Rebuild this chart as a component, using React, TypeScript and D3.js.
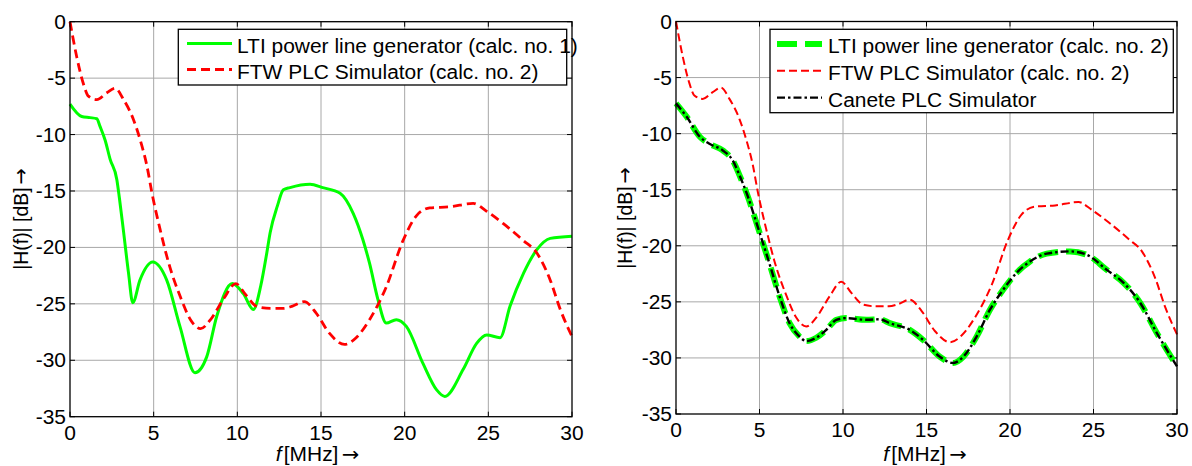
import React from "react";
import * as d3 from "d3";

// ---- Data ----
const fLti1 = [0, 0.7, 1.2, 1.6, 1.8, 2.1, 2.4, 2.8, 2.95, 3.2, 3.5, 3.75, 4.18, 4.94, 5.78, 6.57, 7.47, 8.17, 8.77, 9.7, 10.36, 10.96, 11.4, 11.76, 11.96, 12.4, 12.75, 13.15, 14.35, 15.1, 16.14, 16.93, 17.5, 17.9, 18.4, 18.9, 19.5, 20.1, 21.1, 21.9, 22.4, 23.5, 24.3, 24.9, 25.7, 26.3, 27.1, 27.9, 28.7, 30];
const hLti1 = [-7.3, -8.4, -8.5, -8.6, -9.3, -10.5, -12.2, -14.0, -15.6, -18.6, -22.3, -24.9, -22.9, -21.3, -22.9, -27.0, -31.1, -29.7, -26.1, -23.2, -24.1, -25.5, -23.4, -20.5, -18.7, -16.3, -14.9, -14.7, -14.4, -14.7, -15.2, -17.0, -19.3, -21.4, -24.6, -26.7, -26.4, -27.0, -30.3, -32.6, -33.2, -30.8, -28.5, -27.75, -28.0, -25.2, -22.3, -20.2, -19.2, -19.0];

const fFtw = [0, 0.4, 0.8, 1.1, 1.6, 2.2, 2.7, 3.2, 3.8, 4.2, 4.6, 4.9, 5.4, 5.9, 6.6, 7.2, 7.8, 8.4, 9.2, 9.9, 10.5, 11.2, 12.0, 12.75, 13.3, 14.0, 14.7, 15.5, 16.4, 17.1, 17.9, 18.9, 19.9, 20.7, 21.5, 22.7, 24.1, 24.9, 25.9, 27.1, 27.9, 28.7, 29.3, 30];
const hFtw = [0, -3.1, -5.5, -6.6, -6.9, -6.3, -5.9, -6.9, -8.7, -10.5, -12.8, -15.2, -18.5, -21.4, -24.4, -26.4, -27.2, -26.4, -24.5, -23.2, -24.2, -25.25, -25.4, -25.4, -25.2, -24.8, -25.8, -27.6, -28.6, -28.0, -26.4, -23.5, -19.4, -17.2, -16.5, -16.4, -16.1, -16.8, -17.9, -19.4, -20.5, -22.9, -25.5, -27.9];

const fLti2 = [0, 0.64, 1.44, 2.0, 2.8, 3.4, 3.8, 4.3, 4.7, 5.0, 5.6, 6.2, 6.8, 7.4, 7.8, 8.4, 9.0, 9.6, 10.2, 11.4, 12.2, 12.8, 14.0, 14.8, 15.8, 16.6, 17.2, 18.0, 18.8, 19.6, 20.4, 21.2, 22.2, 23.6, 24.6, 25.8, 26.8, 27.8, 28.8, 30];
const hLti2 = [-7.3, -8.5, -10.3, -10.9, -11.5, -12.4, -13.7, -15.6, -17.4, -18.8, -21.6, -24.5, -26.9, -28.1, -28.5, -28.2, -27.5, -26.6, -26.45, -26.6, -26.55, -26.9, -27.5, -28.4, -29.9, -30.45, -29.9, -28.1, -25.7, -23.9, -22.4, -21.4, -20.7, -20.5, -20.8, -22.15, -23.3, -25.1, -27.8, -30.75];

const xTicks = [0, 5, 10, 15, 20, 25, 30];
const yTicks = [0, -5, -10, -15, -20, -25, -30, -35];

const legendLeft = ["LTI power line generator (calc. no. 1)", "FTW PLC Simulator (calc. no. 2)"];
const legendRight = ["LTI power line generator (calc. no. 2)", "FTW PLC Simulator (calc. no. 2)", "Canete PLC Simulator"];

const FONT = "'Liberation Sans', Arial, sans-serif";
const ARROWFONT = "'DejaVu Sans', sans-serif";
const FS = 19.4;
const SX = 1.08;

type Style = { stroke: string; width: number; dash?: string };

const T = ({ x, y, anchor = "start", children }: any) => (
  <text
    transform={`translate(${x},${y}) scale(${SX},1)`}
    textAnchor={anchor}
    fontFamily={FONT}
    fontSize={FS}
    fill="#000"
  >
    {children}
  </text>
);

function Panel({ xr, yr, series, legend, ylab, xlab }: any) {
  const x = d3.scaleLinear().domain([0, 30]).range(xr);
  const y = d3.scaleLinear().domain([0, -35]).range(yr);
  const line = d3
    .line<[number, number]>()
    .x((d) => x(d[0]))
    .y((d) => y(d[1]))
    .curve(d3.curveMonotoneX);
  const [L, R] = xr;
  const [Tp, B] = yr;
  const tl = 5;
  return (
    <g>
      <rect x={L} y={Tp} width={R - L} height={B - Tp} fill="#fff" />
      {xTicks.slice(1, -1).map((t) => (
        <line key={"gx" + t} x1={x(t)} x2={x(t)} y1={Tp} y2={B} stroke="#a8a8a8" strokeWidth={1} />
      ))}
      {yTicks.slice(1, -1).map((t) => (
        <line key={"gy" + t} x1={L} x2={R} y1={y(t)} y2={y(t)} stroke="#a8a8a8" strokeWidth={1} />
      ))}
      {xTicks.map((t) => (
        <g key={"tx" + t}>
          <line x1={x(t)} x2={x(t)} y1={B} y2={B - tl} stroke="#000" />
          <line x1={x(t)} x2={x(t)} y1={Tp} y2={Tp + tl} stroke="#000" />
          <T x={x(t)} y={B + 23} anchor="middle">{String(t)}</T>
        </g>
      ))}
      {yTicks.map((t) => (
        <g key={"ty" + t}>
          <line x1={L} x2={L + tl} y1={y(t)} y2={y(t)} stroke="#000" />
          <line x1={R} x2={R - tl} y1={y(t)} y2={y(t)} stroke="#000" />
          <T x={L - 4} y={y(t) + 7} anchor="end">{String(t)}</T>
        </g>
      ))}
      {series.map((s: any, i: number) => (
        <path
          key={"s" + i}
          d={line(s.f.map((f: number, j: number) => [f, s.h[j]]) as any) || ""}
          fill="none"
          stroke={s.style.stroke}
          strokeWidth={s.style.width}
          strokeDasharray={s.style.dash}
          strokeLinejoin="round"
        />
      ))}
      <rect x={L} y={Tp} width={R - L} height={B - Tp} fill="none" stroke="#000" strokeWidth={1.3} />
      {/* legend */}
      <rect x={legend.x} y={legend.y} width={legend.w} height={legend.h} fill="#fff" stroke="#000" strokeWidth={1.3} />
      {legend.items.map((it: any, i: number) => (
        <g key={"l" + i}>
          <line
            x1={legend.lx0}
            x2={legend.lx1}
            y1={legend.y0 + i * legend.dy - 2}
            y2={legend.y0 + i * legend.dy - 2}
            stroke={it.style.stroke}
            strokeWidth={it.style.width}
            strokeDasharray={it.style.dash}
          />
          <T x={legend.tx} y={legend.y0 + i * legend.dy + 7}>{it.label}</T>
        </g>
      ))}
      {/* axis labels */}
      <text
        transform={`translate(${ylab.x},${ylab.y}) rotate(-90) scale(1,${SX})`}
        textAnchor="middle"
        fontFamily={FONT}
        fontSize={FS}
      >
        <tspan>|H(f)| [dB]</tspan>
        <tspan fontFamily={ARROWFONT} dx={3}>→</tspan>
      </text>
      <text
        transform={`translate(${xlab.x},${xlab.y}) scale(${SX},1)`}
        textAnchor="middle"
        fontFamily={FONT}
        fontSize={FS}
      >
        <tspan fontStyle="italic">f</tspan>
        <tspan dx={2}>[MHz]</tspan>
        <tspan fontFamily={ARROWFONT} dx={3}>→</tspan>
      </text>
    </g>
  );
}

const greenSolid: Style = { stroke: "#00ff00", width: 3 };
const redThick: Style = { stroke: "#ff0000", width: 2.8, dash: "9,5" };
const redThin: Style = { stroke: "#ff0000", width: 2, dash: "8,4" };
const greenDash: Style = { stroke: "#00ff00", width: 6, dash: "20,8" };
const blackDashDot: Style = { stroke: "#000", width: 2.4, dash: "8,3,2.5,3" };

export default function App() {
  return (
    <svg
      width={1192}
      height={466}
      style={{ position: "absolute", left: 0, top: 0, background: "#fff" }}
    >
      <rect width={1192} height={466} fill="#fff" />
      <Panel
        xr={[70, 572]}
        yr={[21.7, 416.7]}
        series={[
          { f: fLti1, h: hLti1, style: greenSolid },
          { f: fFtw, h: hFtw, style: redThick },
        ]}
        legend={{
          x: 178.3, y: 29.3, w: 388.4, h: 55.7,
          lx0: 187, lx1: 232, tx: 237, y0: 45.5, dy: 26,
          items: [
            { label: legendLeft[0], style: greenSolid },
            { label: legendLeft[1], style: redThick },
          ],
        }}
        ylab={{ x: 28, y: 219 }}
        xlab={{ x: 317.5, y: 461 }}
      />
      <Panel
        xr={[676, 1177]}
        yr={[21.5, 414]}
        series={[
          { f: fLti2, h: hLti2, style: greenDash },
          { f: fFtw, h: hFtw, style: redThin },
          { f: fLti2, h: hLti2, style: blackDashDot },
        ]}
        legend={{
          x: 770, y: 29.3, w: 403.3, h: 83.4,
          lx0: 777, lx1: 822, tx: 828, y0: 46, dy: 26.8,
          items: [
            { label: legendRight[0], style: greenDash },
            { label: legendRight[1], style: redThin },
            { label: legendRight[2], style: blackDashDot },
          ],
        }}
        ylab={{ x: 631.5, y: 218 }}
        xlab={{ x: 925, y: 460.5 }}
      />
    </svg>
  );
}
